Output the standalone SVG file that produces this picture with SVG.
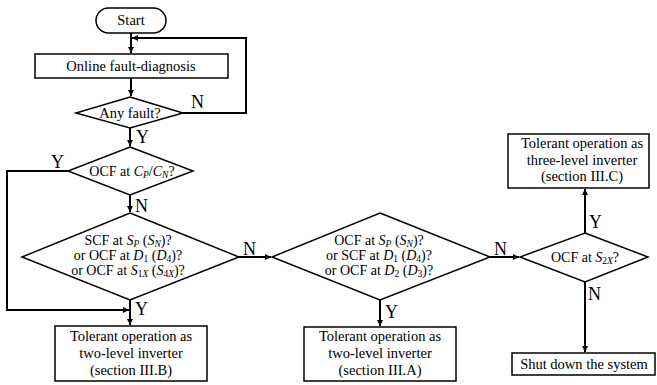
<svg xmlns="http://www.w3.org/2000/svg" width="657" height="385" viewBox="0 0 657 385">
<defs>
<marker id="ah" viewBox="0 0 10 10" refX="10" refY="5" markerWidth="7" markerHeight="6" markerUnits="userSpaceOnUse" orient="auto">
<path d="M0,0 L10,5 L0,10 z" fill="#000"/>
</marker>
<style>
.sh{fill:#fff;stroke:#000;stroke-width:1.5}
text{font-family:'Liberation Serif','DejaVu Serif',serif;fill:#000}
.t{font-size:14.5px;text-anchor:middle}
.d{font-size:14px;text-anchor:middle}
.lb{font-size:18px}
.c{fill:none;stroke:#000;stroke-width:2}
.i{font-style:italic}
.s{font-size:9.5px}
</style>
</defs>
<rect width="657" height="385" fill="#fff"/>
<g id="connectors">
<path class="c" d="M131,33 V53" marker-end="url(#ah)"/>
<path class="c" d="M131,78 V96" marker-end="url(#ah)"/>
<path class="c" d="M183,113 H246 V38 H132" marker-end="url(#ah)"/>
<path class="c" d="M130,128 V146" marker-end="url(#ah)"/>
<path class="c" d="M130,195 V212" marker-end="url(#ah)"/>
<path class="c" d="M68,171 H7 V310 H129" marker-end="url(#ah)"/>
<path class="c" d="M130,300 V325" marker-end="url(#ah)"/>
<path class="c" d="M239,257 H271" marker-end="url(#ah)"/>
<path class="c" d="M380,300 V326" marker-end="url(#ah)"/>
<path class="c" d="M490,257 H519" marker-end="url(#ah)"/>
<path class="c" d="M585,233 V189" marker-end="url(#ah)"/>
<path class="c" d="M585,282 V352" marker-end="url(#ah)"/>
<text class="lb" x="191" y="108">N</text>
<text class="lb" x="136" y="143">Y</text>
<text class="lb" x="51" y="168">Y</text>
<text class="lb" x="135" y="212">N</text>
<text class="lb" x="243" y="255">N</text>
<text class="lb" x="135" y="315">Y</text>
<text class="lb" x="385" y="318">Y</text>
<text class="lb" x="494" y="255">N</text>
<text class="lb" x="589" y="228">Y</text>
<text class="lb" x="588" y="300">N</text>
</g>
<g id="start">
<rect class="sh" x="96" y="8" width="70" height="25" rx="12.5"/>
<text class="t" x="131" y="25">Start</text>
</g>
<g id="online">
<rect class="sh" x="35" y="54" width="193" height="24"/>
<text class="t" x="131" y="71">Online fault-diagnosis</text>
</g>
<g id="anyfault">
<polygon class="sh" points="130,97 183,113 130,128 76,113"/>
<text class="t" x="130" y="118">Any fault?</text>
</g>
<g id="ocfc">
<polygon class="sh" points="130,147 193,171 130,195 68,171"/>
<text class="d" x="132" y="176">OCF at <tspan class="i">C</tspan><tspan class="i s" dy="2">P</tspan><tspan dy="-2">/</tspan><tspan class="i">C</tspan><tspan class="i s" dy="2">N</tspan><tspan dy="-2">?</tspan></text>
</g>
<g id="diamond1">
<polygon class="sh" points="130,213 239,257 130,300 22,257"/>
<text class="d" x="128" y="245">SCF at <tspan class="i">S</tspan><tspan class="i s" dy="2">P</tspan><tspan dy="-2"> (</tspan><tspan class="i">S</tspan><tspan class="i s" dy="2">N</tspan><tspan dy="-2">)?</tspan></text>
<text class="d" x="128" y="260">or OCF at <tspan class="i">D</tspan><tspan class="s" dy="2">1</tspan><tspan dy="-2"> (</tspan><tspan class="i">D</tspan><tspan class="s" dy="2">4</tspan><tspan dy="-2">)?</tspan></text>
<text class="d" x="128" y="275">or OCF at <tspan class="i">S</tspan><tspan class="s" dy="2">1<tspan class="i">X</tspan></tspan><tspan dy="-2"> (</tspan><tspan class="i">S</tspan><tspan class="s" dy="2">4<tspan class="i">X</tspan></tspan><tspan dy="-2">)?</tspan></text>
</g>
<g id="boxB">
<rect class="sh" x="55" y="326" width="152" height="55"/>
<text class="t" x="131" y="341">Tolerant operation as</text>
<text class="t" x="131" y="358">two-level inverter</text>
<text class="t" x="131" y="375">(section III.B)</text>
</g>
<g id="diamond2">
<polygon class="sh" points="380,213 490,257 380,300 272,257"/>
<text class="d" x="379" y="245">OCF at <tspan class="i">S</tspan><tspan class="i s" dy="2">P</tspan><tspan dy="-2"> (</tspan><tspan class="i">S</tspan><tspan class="i s" dy="2">N</tspan><tspan dy="-2">)?</tspan></text>
<text class="d" x="379" y="260">or SCF at <tspan class="i">D</tspan><tspan class="s" dy="2">1</tspan><tspan dy="-2"> (</tspan><tspan class="i">D</tspan><tspan class="s" dy="2">4</tspan><tspan dy="-2">)?</tspan></text>
<text class="d" x="379" y="275">or OCF at <tspan class="i">D</tspan><tspan class="s" dy="2">2</tspan><tspan dy="-2"> (</tspan><tspan class="i">D</tspan><tspan class="s" dy="2">3</tspan><tspan dy="-2">)?</tspan></text>
</g>
<g id="boxA">
<rect class="sh" x="304" y="327" width="152" height="54"/>
<text class="t" x="380" y="341">Tolerant operation as</text>
<text class="t" x="380" y="358">two-level inverter</text>
<text class="t" x="380" y="375">(section III.A)</text>
</g>
<g id="diamond3">
<polygon class="sh" points="585,233 648,257 585,282 520,257"/>
<text class="d" x="585" y="262">OCF at <tspan class="i">S</tspan><tspan class="s" dy="2">2<tspan class="i">X</tspan></tspan><tspan dy="-2">?</tspan></text>
</g>
<g id="boxC">
<rect class="sh" x="508" y="134" width="141" height="54"/>
<text class="t" x="582" y="148">Tolerant operation as</text>
<text class="t" x="582" y="165">three-level inverter</text>
<text class="t" x="582" y="181">(section III.C)</text>
</g>
<g id="shutdown">
<rect class="sh" x="512" y="353" width="143" height="22"/>
<text class="t" x="584" y="369">Shut down the system</text>
</g>
</svg>
